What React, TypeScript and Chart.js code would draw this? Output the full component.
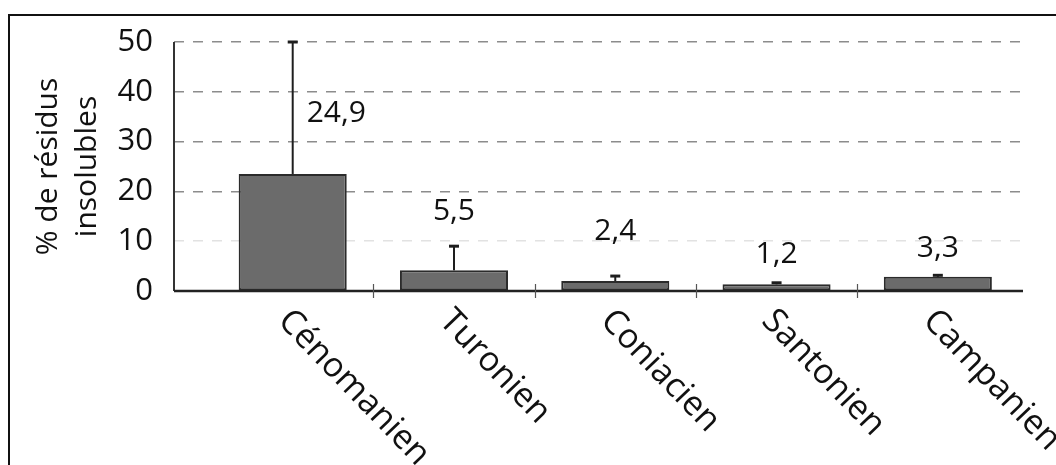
import React, { useEffect, useRef } from 'react';
import { Chart, registerables } from 'chart.js';

Chart.register(...registerables);

const categories = ['Cénomanien', 'Turonien', 'Coniacien', 'Santonien', 'Campanien'];
const barValues = [23.5, 4.15, 2.0, 1.35, 2.85];
const errorTops = [50, 9.0, 3.0, 1.65, 3.15];
const valueLabels = ['24,9', '5,5', '2,4', '1,2', '3,3'];
const valueLabelY = [35.7, 16.0, 11.9, 7.4, 8.6];
const valueLabelDx = [0.27, 0, 0, 0, 0];
const yMin = 0;
const yMax = 50;
const yStep = 10;
const yTitle = ['% de résidus', 'insolubles'];

const FONT = "'Open Sans', sans-serif";

const overlay = {
  id: 'overlay',
  afterDatasetsDraw(chart: any) {
    const { ctx, chartArea, scales } = chart;
    const x = scales.x;
    const y = scales.y;
    ctx.save();
    // error bars
    ctx.strokeStyle = '#1e1e1e';
    categories.forEach((_, i) => {
      const px = x.getPixelForValue(i);
      const yb = y.getPixelForValue(barValues[i]);
      const yt = y.getPixelForValue(errorTops[i]);
      ctx.lineWidth = 2;
      ctx.beginPath();
      ctx.moveTo(px, yb);
      ctx.lineTo(px, yt);
      ctx.stroke();
      ctx.lineWidth = 3;
      ctx.beginPath();
      ctx.moveTo(px - 5, yt);
      ctx.lineTo(px + 5, yt);
      ctx.stroke();
    });
    // axes
    const y0 = y.getPixelForValue(0);
    ctx.strokeStyle = '#333';
    ctx.lineWidth = 2;
    ctx.beginPath();
    ctx.moveTo(chartArea.left, chartArea.top);
    ctx.lineTo(chartArea.left, y0);
    ctx.stroke();
    ctx.strokeStyle = '#222';
    ctx.lineWidth = 2.5;
    ctx.beginPath();
    ctx.moveTo(chartArea.left, y0);
    ctx.lineTo(chartArea.right, y0);
    ctx.stroke();
    // category separators
    ctx.strokeStyle = '#555';
    ctx.lineWidth = 1.2;
    for (let i = 0; i < categories.length - 1; i++) {
      const px = Math.round(x.getPixelForValue(i + 0.5)) + 0.5;
      ctx.beginPath();
      ctx.moveTo(px, y0 - 7);
      ctx.lineTo(px, y0 + 7);
      ctx.stroke();
    }
    // value labels
    ctx.fillStyle = '#111';
    ctx.font = `30px ${FONT}`;
    ctx.textAlign = 'center';
    ctx.textBaseline = 'middle';
    valueLabels.forEach((t, i) => {
      ctx.fillText(t, x.getPixelForValue(i + valueLabelDx[i]), y.getPixelForValue(valueLabelY[i]));
    });
    // category labels, rotated clockwise
    ctx.font = `34px ${FONT}`;
    ctx.textAlign = 'left';
    ctx.textBaseline = 'alphabetic';
    categories.forEach((c, i) => {
      ctx.save();
      ctx.translate(x.getPixelForValue(i) - 16, y0 + 31);
      ctx.rotate((46 * Math.PI) / 180);
      ctx.fillText(c, 0, 0);
      ctx.restore();
    });
    ctx.restore();
  },
};

export default function App() {
  const ref = useRef<HTMLCanvasElement>(null);
  useEffect(() => {
    if (!ref.current) return;
    const chart = new Chart(ref.current, {
      type: 'bar',
      data: {
        datasets: [
          {
            data: categories.map((_, i) => ({ x: i, y: barValues[i] })),
            backgroundColor: '#6b6b6b',
            borderColor: '#2b2b2b',
            borderWidth: 2,
            borderSkipped: false,
            barPercentage: 0.67,
            categoryPercentage: 1,
          } as any,
        ],
      },
      options: {
        responsive: false,
        animation: false,
        layout: { padding: { left: 0, top: 42, right: 33, bottom: 174 } },
        plugins: { legend: { display: false }, tooltip: { enabled: false } },
        scales: {
          x: {
            type: 'linear',
            min: -0.736,
            max: 4.528,
            offset: false,
            display: false,
            afterBuildTicks: (s: any) => {
              s.ticks = categories.map((_, i) => ({ value: i }));
            },
          },
          y: {
            min: yMin,
            max: yMax,
            afterFit: (s: any) => {
              s.width = 174;
            },
            ticks: { stepSize: yStep, padding: 21, color: '#111', font: { family: FONT, size: 31 } },
            grid: {
              drawTicks: false,
              tickLength: 0,
              lineWidth: 1.5,
              color: (c: any) =>
                c.tick && c.tick.value === 10
                  ? '#e2e2e2'
                  : c.tick && c.tick.value === 0
                  ? 'rgba(0,0,0,0)'
                  : '#8c8c8c',
            },
            border: { display: false, dash: [10, 9] },
            title: {
              display: true,
              text: yTitle,
              color: '#111',
              font: { family: FONT, size: 30, lineHeight: 1.3 },
              padding: { top: 29, bottom: 0 },
            },
          },
        },
      },
      plugins: [overlay],
    });
    return () => chart.destroy();
  }, []);
  return (
    <>
      <canvas ref={ref} width={1056} height={465} style={{ position: 'absolute', left: 0, top: 0, display: 'block' }} />
      <div
        style={{
          position: 'absolute',
          left: 8,
          top: 14,
          right: 0,
          bottom: 0,
          borderTop: '2px solid #111',
          borderLeft: '2px solid #111',
          pointerEvents: 'none',
        }}
      />
    </>
  );
}
